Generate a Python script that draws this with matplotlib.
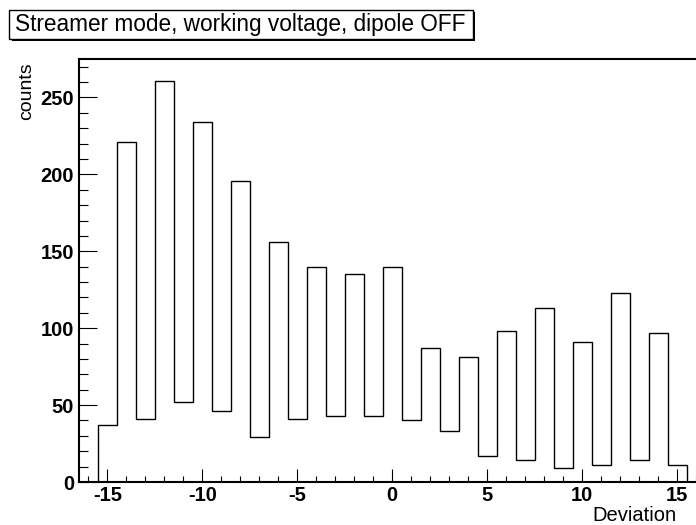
import matplotlib
matplotlib.use('Agg')
import matplotlib.pyplot as plt
import matplotlib.patches as mpatches
from matplotlib.ticker import MultipleLocator

# histogram contents, one bin per integer deviation
deviation = list(range(-15, 16))
counts = [37, 221, 41, 261, 52, 234, 46, 196, 29, 156, 41, 140, 43, 135, 43,
          140, 40, 87, 33, 81, 17, 98, 14, 113, 9, 91, 11, 123, 14, 97, 11]
edges = [d - 0.5 for d in deviation] + [deviation[-1] + 0.5]

title = 'Streamer mode, working voltage, dipole OFF'

plt.rcParams['font.family'] = ['Liberation Sans', 'DejaVu Sans']
plt.rcParams['axes.unicode_minus'] = False

W, H = 696, 525
fig = plt.figure(figsize=(W / 100, H / 100), dpi=100)
ax = fig.add_axes([79 / W, 43 / H, (705.5 - 79) / W, 423 / H])

ax.stairs(counts, edges, baseline=0, color='black', linewidth=1.0)

ax.set_xlim(-16.5, 16.5)
ax.set_ylim(0, 275)
ax.xaxis.set_major_locator(MultipleLocator(5))
ax.xaxis.set_minor_locator(MultipleLocator(1))
ax.yaxis.set_major_locator(MultipleLocator(50))
ax.yaxis.set_minor_locator(MultipleLocator(10))

ax.tick_params(axis='x', which='major', direction='in', length=9.4, width=0.8, pad=3,
               labelsize=14.5)
ax.tick_params(axis='x', which='minor', direction='in', length=4.3, width=0.8)
ax.tick_params(axis='y', which='major', direction='in', length=13, width=0.8, pad=3.5,
               labelsize=14.5)
ax.tick_params(axis='y', which='minor', direction='in', length=6.5, width=0.8)
for lab in ax.get_xticklabels() + ax.get_yticklabels():
    lab.set_fontweight('bold')

for s in ax.spines.values():
    s.set_linewidth(1.5)

# axis titles, ROOT style
fig.text(27 / W, 1 - 62 / H, 'counts', rotation=90, ha='center', va='top', fontsize=14)
fig.text(677 / W, 1 - 521 / H, 'Deviation', ha='right', va='baseline', fontsize=14.5)

# title pave with shadow
bx0, bx1, by0, by1 = 9, 473, 9.5, 38.5
fig.add_artist(mpatches.Rectangle(((bx0 + 2.5) / W, 1 - (by1 + 2.5) / H),
                                  (bx1 - bx0) / W, (by1 - by0) / H,
                                  transform=fig.transFigure, facecolor='black',
                                  edgecolor='black', linewidth=0))
fig.add_artist(mpatches.Rectangle((bx0 / W, 1 - by1 / H),
                                  (bx1 - bx0) / W, (by1 - by0) / H,
                                  transform=fig.transFigure, facecolor='white',
                                  edgecolor='black', linewidth=1.0))
fig.text(15 / W, 1 - 24 / H, title, ha='left', va='center', fontsize=16.3)

fig.savefig('out.png', dpi=100)
